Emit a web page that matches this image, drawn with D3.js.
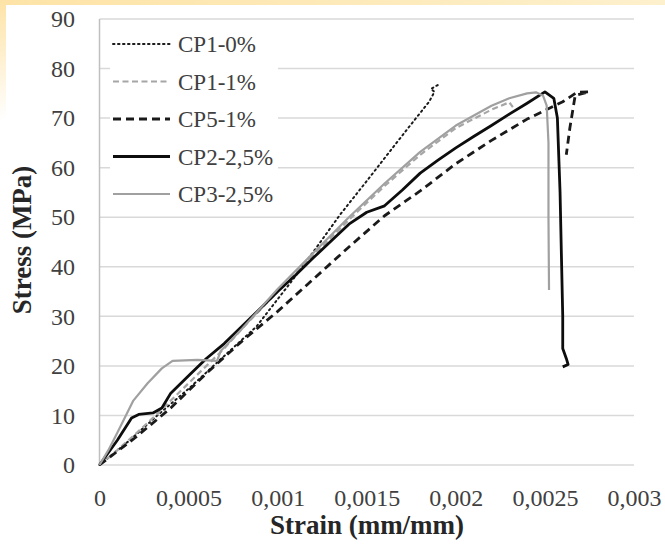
<!DOCTYPE html>
<html>
<head>
<meta charset="utf-8">
<script src="https://cdn.jsdelivr.net/npm/d3@7"></script>
<style>
  html, body { margin: 0; padding: 0; background: #fff; }
  svg { display: block; }
</style>
</head>
<body>
<div id="chart"></div>
<script>
'use strict';

// stress-strain curves, [strain (mm/mm), stress (MPa)]
var cp1_0 = [[0, 0], [0.00017, 5], [0.00034, 10.5], [0.00051, 15.7], [0.0007, 22], [0.00088, 27.9],
  [0.00107, 36.7], [0.0012, 43], [0.00135, 50.5], [0.0015, 57.3], [0.00163, 63.3], [0.00175, 68.8],
  [0.00185, 73.3], [0.00188, 75.3], [0.00186, 75.9], [0.00191, 76.9]];
var cp1_1 = [[0, 0], [0.0001, 3], [0.0002, 6.2], [0.0003, 9.5], [0.0004, 13], [0.0005, 16.5],
  [0.0006, 20], [0.0007, 23.5], [0.0008, 27.5], [0.001, 35], [0.0012, 42.3], [0.0014, 49.5],
  [0.0016, 56.3], [0.0018, 62.6], [0.002, 68], [0.0022, 71.7], [0.0023, 73.2], [0.00232, 72.2]];
var cp5_1 = [[0, 0], [0.0002, 5.5], [0.0004, 11.5], [0.0006, 18.5], [0.0008, 25], [0.001, 31],
  [0.0012, 37.5], [0.0014, 44], [0.0016, 50.3], [0.0018, 55.3], [0.002, 60.8], [0.0022, 65.5],
  [0.0024, 69.8], [0.0026, 73.3], [0.00268, 75.2], [0.00275, 75.3], [0.00267, 74.6], [0.00264, 68],
  [0.00262, 62.6]];
var cp2_25 = [[0, 0], [0.0001, 5], [0.00018, 9.5], [0.00022, 10.2], [0.0003, 10.5], [0.00035, 11.5],
  [0.0004, 14.5], [0.0005, 18], [0.0006, 21.5], [0.0007, 24.5], [0.0008, 28], [0.0009, 31.5],
  [0.001, 35], [0.0011, 38.3], [0.0012, 41.8], [0.0013, 45.2], [0.0014, 48.6], [0.0015, 51],
  [0.0016, 52.3], [0.0017, 55.5], [0.0018, 58.9], [0.0019, 61.5], [0.002, 64], [0.0021, 66.3],
  [0.0022, 68.5], [0.0023, 70.8], [0.0024, 73], [0.0025, 75.3], [0.00255, 74], [0.00257, 70],
  [0.002585, 55], [0.0026, 30], [0.0026, 23.5], [0.00262, 21.5], [0.00263, 20.3], [0.0026, 19.8]];
var cp3_25 = [[0, 0], [0.00005, 3], [0.0001, 6.5], [0.00019, 13], [0.00027, 16.5], [0.00035, 19.5],
  [0.00041, 21], [0.00055, 21.2], [0.00066, 21], [0.00068, 23], [0.0008, 27.5], [0.001, 35.5],
  [0.0012, 42.8], [0.0014, 50], [0.0016, 56.8], [0.0018, 63.2], [0.002, 68.5], [0.0022, 72.5],
  [0.0023, 74], [0.0024, 75], [0.00245, 75.2], [0.00249, 74.5], [0.00251, 72.5], [0.00252, 65],
  [0.00252, 50], [0.002523, 35.3]];

var seriesNames = ['CP1-0%', 'CP1-1%', 'CP5-1%', 'CP2-2,5%', 'CP3-2,5%'];
var seriesData = [cp1_0, cp1_1, cp5_1, cp2_25, cp3_25];
var xTickValues = [0, 0.0005, 0.001, 0.0015, 0.002, 0.0025, 0.003];
var xTickLabels = ['0', '0,0005', '0,001', '0,0015', '0,002', '0,0025', '0,003'];
var yTickValues = [0, 10, 20, 30, 40, 50, 60, 70, 80, 90];

var width = 665;
var height = 549;
var serif = '"Liberation Serif", "Times New Roman", serif';

var styles = [
  { stroke: '#1a1a1a', width: 2, dash: '1.5,3.5', cap: 'round' },
  { stroke: '#a6a6a6', width: 2.2, dash: '6,3.5', cap: 'butt' },
  { stroke: '#1a1a1a', width: 2.8, dash: '8,5', cap: 'butt' },
  { stroke: '#0d0d0d', width: 2.8, dash: null, cap: 'butt' },
  { stroke: '#a0a0a0', width: 2.2, dash: null, cap: 'butt' }
];

var svg = d3.select('#chart').append('svg')
  .attr('width', width)
  .attr('height', height);

// yellow frame at top and left
var defs = svg.append('defs');
var topGrad = defs.append('linearGradient').attr('id', 'topGrad');
topGrad.append('stop').attr('offset', '0%').attr('stop-color', '#fde3a6');
topGrad.append('stop').attr('offset', '100%').attr('stop-color', '#fdf0cc');
var leftGrad = defs.append('linearGradient').attr('id', 'leftGrad')
  .attr('x1', 0).attr('y1', 0).attr('x2', 0).attr('y2', 1);
leftGrad.append('stop').attr('offset', '0%').attr('stop-color', '#fde3a6');
leftGrad.append('stop').attr('offset', '100%').attr('stop-color', '#ffffff');

svg.append('rect').attr('width', width).attr('height', height).attr('fill', '#fff');
svg.append('rect').attr('x', 0).attr('y', 0).attr('width', width).attr('height', 5)
  .attr('fill', 'url(#topGrad)');
svg.append('rect').attr('x', 0).attr('y', 0).attr('width', 6).attr('height', 120)
  .attr('fill', 'url(#leftGrad)');

var x = d3.scaleLinear().domain([0, 0.003]).range([99.5, 634]);
var y = d3.scaleLinear().domain([0, 90]).range([465, 19]);

// gridlines
svg.append('g')
  .selectAll('line')
  .data(yTickValues)
  .enter().append('line')
  .attr('x1', x(0))
  .attr('x2', x(0.003))
  .attr('y1', function(d) { return y(d); })
  .attr('y2', function(d) { return y(d); })
  .attr('stroke', '#d9d9d9')
  .attr('stroke-width', 1.5);

svg.append('line')
  .attr('x1', x(0)).attr('x2', x(0))
  .attr('y1', y(90)).attr('y2', y(0))
  .attr('stroke', '#bfbfbf')
  .attr('stroke-width', 1.5);

// axes (labels only)
var yAxis = svg.append('g')
  .attr('transform', 'translate(' + x(0) + ',0)')
  .call(d3.axisLeft(y).tickValues(yTickValues).tickSize(0).tickPadding(24.5));
var xAxis = svg.append('g')
  .attr('transform', 'translate(0,' + y(0) + ')')
  .call(d3.axisBottom(x).tickValues(xTickValues).tickSize(0).tickPadding(24)
    .tickFormat(function(d, i) { return xTickLabels[i]; }));

[yAxis, xAxis].forEach(function(g) {
  g.select('.domain').remove();
  g.selectAll('text')
    .attr('fill', '#404040')
    .style('font-family', serif)
    .style('font-size', '24px');
});

// axis titles
svg.append('text')
  .attr('transform', 'translate(31,240) rotate(-90)')
  .attr('text-anchor', 'middle')
  .attr('fill', '#262626')
  .style('font-family', serif)
  .style('font-size', '27px')
  .style('font-weight', 'bold')
  .text('Stress (MPa)');

svg.append('text')
  .attr('x', 367)
  .attr('y', 534)
  .attr('text-anchor', 'middle')
  .attr('fill', '#262626')
  .style('font-family', serif)
  .style('font-size', '27px')
  .style('font-weight', 'bold')
  .text('Strain (mm/mm)');

// legend background hides gridlines
svg.append('rect')
  .attr('x', 110).attr('y', 25)
  .attr('width', 168).attr('height', 187)
  .attr('fill', '#fff');

// curves
var line = d3.line()
  .x(function(d) { return x(d[0]); })
  .y(function(d) { return y(d[1]); });

svg.append('g')
  .selectAll('path')
  .data(seriesData)
  .enter().append('path')
  .attr('d', line)
  .attr('fill', 'none')
  .attr('stroke', function(d, i) { return styles[i].stroke; })
  .attr('stroke-width', function(d, i) { return styles[i].width; })
  .attr('stroke-dasharray', function(d, i) { return styles[i].dash; })
  .attr('stroke-linecap', function(d, i) { return styles[i].cap; })
  .attr('stroke-linejoin', 'round');

// legend
var legend = svg.append('g')
  .selectAll('g')
  .data(seriesNames)
  .enter().append('g')
  .attr('transform', function(d, i) { return 'translate(113,' + (44 + i * 37.5) + ')'; });

legend.append('line')
  .attr('x1', 0).attr('x2', 57)
  .attr('stroke', function(d, i) { return styles[i].stroke; })
  .attr('stroke-width', function(d, i) { return styles[i].width; })
  .attr('stroke-dasharray', function(d, i) { return styles[i].dash; })
  .attr('stroke-linecap', function(d, i) { return styles[i].cap; });

legend.append('text')
  .attr('x', 65)
  .attr('dy', '0.35em')
  .attr('fill', '#404040')
  .style('font-family', serif)
  .style('font-size', '23px')
  .text(function(d) { return d; });
</script>
</body>
</html>
